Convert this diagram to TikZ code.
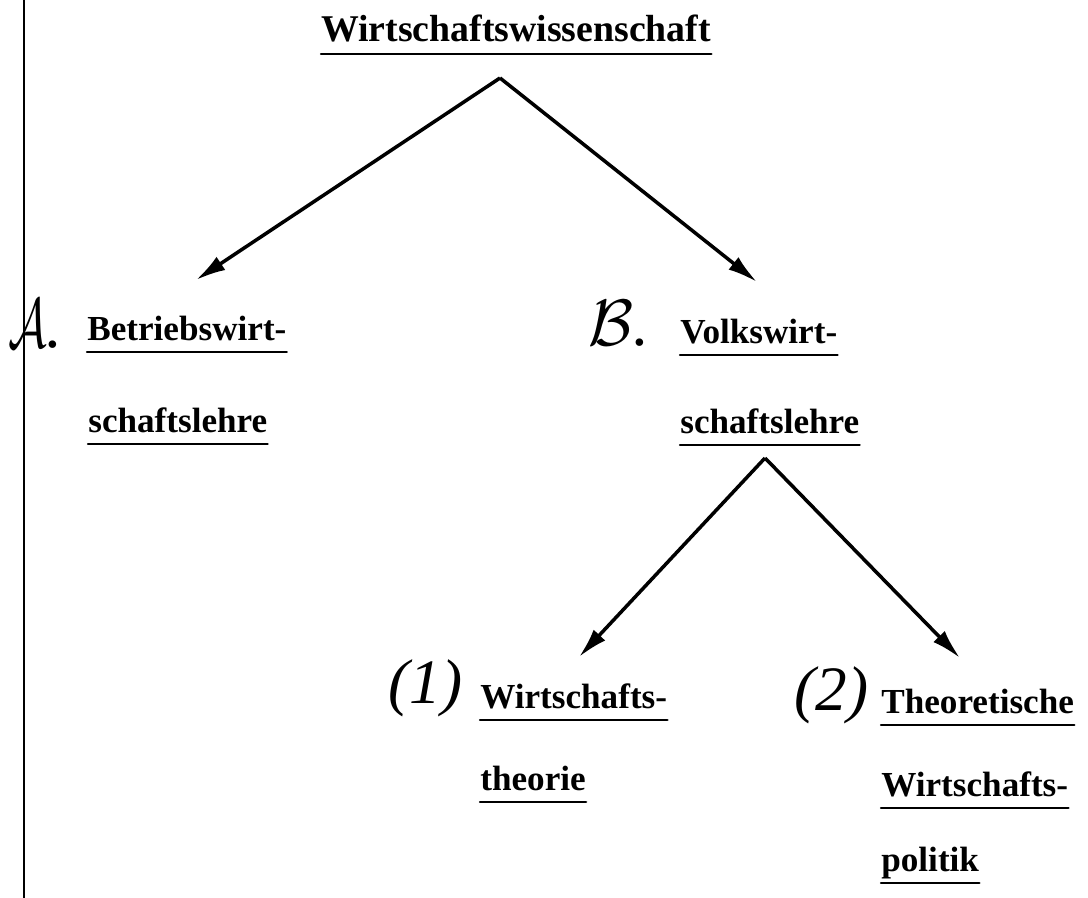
\documentclass[tikz,border=0pt]{standalone}
\usepackage{fontspec}
\setmainfont{Liberation Serif}
\usetikzlibrary{arrows.meta}

\begin{document}
\begin{tikzpicture}[x=0.02cm, y=-0.02cm,
    term/.style={anchor=base west, inner sep=0pt, font=\fontsize{20}{24}\selectfont\bfseries},
    hand/.style={anchor=base west, inner sep=0pt, font=\fontsize{36}{40}\selectfont\itshape},
    uline/.style={line width=1.4pt, line cap=round},
    line/.style={draw, line width=2pt, -{Latex[length=17pt, width=9pt]}}]

    \useasboundingbox (0,0) rectangle (1088,898);
    \draw [line width=0.6pt] (24,0) -- (24,898);

    % terms
    \node [term, font=\fontsize{21.5}{26}\selectfont\bfseries] (root) at (321,42) {Wirtschaftswissenschaft};
    \node [term] (bwl1) at (87,340) {Betriebswirt-};
    \node [term] (bwl2) at (88,432) {schaftslehre};
    \node [term] (vwl1) at (680,343) {Volkswirt-};
    \node [term] (vwl2) at (680,433) {schaftslehre};
    \node [term] (wt1) at (480,708) {Wirtschafts-};
    \node [term] (wt2) at (480,790) {theorie};
    \node [term] (wp1) at (881,713) {Theoretische};
    \node [term] (wp2) at (881,796) {Wirtschafts-};
    \node [term] (wp3) at (881,871) {politik};

    % handwritten marks
    \node [hand] (markA) at (8,348) {\scalebox{1.1}[1.6]{$\mathcal{A}$}.};
    \node [hand] (markB) at (588,345) {\scalebox{1.5}[1.5]{$\mathcal{B}$}.};
    \node [hand] (mark1) at (388,703) {(1)};
    \node [hand] (mark2) at (794,710) {(2)};

    \foreach \n in {root,bwl1,bwl2,vwl1,vwl2,wt1,wt2,wp1,wp2,wp3}
        \draw [uline] ([yshift=-0.24cm]\n.base west) -- ([yshift=-0.24cm]\n.base east);

    % arrows
    \coordinate (top1) at (500,78);
    \coordinate (endA) at (196,280);
    \coordinate (endB) at (757,282);
    \coordinate (top2) at (765,458);
    \coordinate (end1) at (579,657);
    \coordinate (end2) at (960,658);

    \path [line] (top1) -- (endA);
    \path [line] (top1) -- (endB);
    \path [line] (top2) -- (end1);
    \path [line] (top2) -- (end2);
\end{tikzpicture}
\end{document}
